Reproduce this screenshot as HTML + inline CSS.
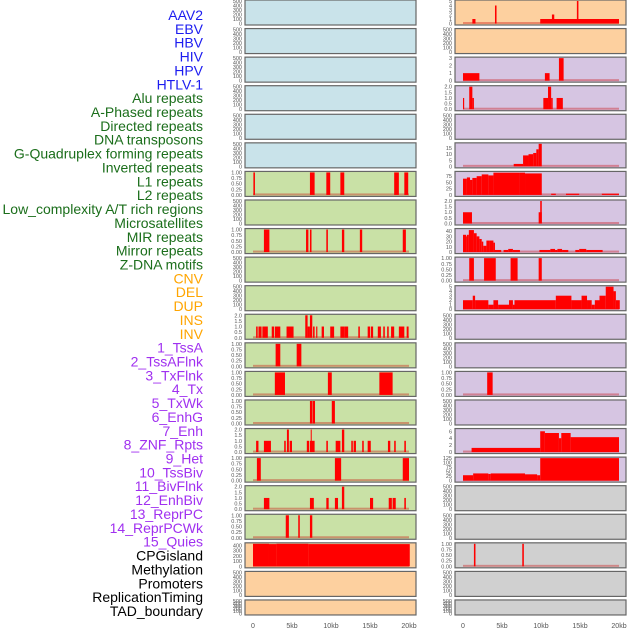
<!DOCTYPE html>
<html><head><meta charset="utf-8">
<style>
html,body{margin:0;padding:0;background:#fff;}
svg{display:block;font-family:"Liberation Sans",sans-serif;}
</style></head>
<body>
<svg id="chart" width="630" height="630" viewBox="0 0 630 630" xmlns="http://www.w3.org/2000/svg"></svg>
<script>
const categories = ["AAV2","EBV","HBV","HIV","HPV","HTLV-1","Alu repeats","A-Phased repeats","Directed repeats","DNA transposons","G-Quadruplex forming repeats","Inverted repeats","L1 repeats","L2 repeats","Low_complexity A/T rich regions","Microsatellites","MIR repeats","Mirror repeats","Z-DNA motifs","CNV","DEL","DUP","INS","INV","1_TssA","2_TssAFlnk","3_TxFlnk","4_Tx","5_TxWk","6_EnhG","7_Enh","8_ZNF_Rpts","9_Het","10_TssBiv","11_BivFlnk","12_EnhBiv","13_ReprPC","14_ReprPCWk","15_Quies","CPGisland","Methylation","Promoters","ReplicationTiming","TAD_boundary"];
const groups = ["virus","virus","virus","virus","virus","virus","repeat","repeat","repeat","repeat","repeat","repeat","repeat","repeat","repeat","repeat","repeat","repeat","repeat","sv","sv","sv","sv","sv","state","state","state","state","state","state","state","state","state","state","state","state","state","state","state","other","other","other","other","other"];
const xTicks = [0,5,10,15,20];
const xTickLabels = ["0","5kb","10kb","15kb","20kb"];
// tick label sets
const tEmpty = ["0","100","200","300","400","500"];
const tUnit = ["0.00","0.25","0.50","0.75","1.00"];
const tTwo = ["0.0","0.5","1.0","1.5","2.0"];
// per panel: [yMax, tickValues, tickLabels]
const yMaxByName = {"Alu repeats":1,"Directed repeats":1,"Inverted repeats":2,"L1 repeats":1,"L2 repeats":1,"Low_complexity A/T rich regions":1,"Microsatellites":2,"MIR repeats":1,"Mirror repeats":2,"Z-DNA motifs":1,"CNV":430,"INS":5,"1_TssA":3,"2_TssAFlnk":2,"4_Tx":18.5,"5_TxWk":90,"6_EnhG":2,"7_Enh":43,"8_ZNF_Rpts":1,"9_Het":5,"12_EnhBiv":1,"14_ReprPCWk":6.5,"15_Quies":125,"Promoters":1};
const tickValsByName = {"CNV":[0,100,200,300,400],"INS":[0,1,2,3,4,5],"1_TssA":[0,1,2,3],"4_Tx":[0,5,10,15],"5_TxWk":[0,25,50,75],"7_Enh":[0,10,20,30,40],"9_Het":[0,1,2,3,4,5],"14_ReprPCWk":[0,2,4,6],"15_Quies":[0,25,50,75,100,125]};
// segments: [startKb, endKb, value]
const segAlu = [[0.05,0.25,1],[7.3,7.9,1],[9.4,9.9,1],[11.2,11.7,1],[18.1,18.7,1],[19.4,19.9,1]];
const segDirected = [[1.4,2.1,1],[6.8,7.1,1],[7.3,7.5,1],[9.4,9.6,1],[11.4,11.7,1],[13.7,14.0,1],[19.2,19.6,1]];
const segInverted = [[0.4,0.6,1],[0.7,1.1,1],[1.2,1.9,1],[2.4,2.7,1],[2.8,3.5,1],[4.3,5.2,1],[6.7,7.0,2],[7.0,7.3,1],[7.3,7.6,2],[7.7,7.9,1],[8.1,8.25,1],[8.8,9.1,1],[9.9,10.4,1],[11.2,11.7,1],[11.7,12.2,1],[13.5,13.7,1],[14.7,15.0,1],[15.1,15.4,1],[16.0,16.4,1],[16.7,16.9,1],[17.2,17.4,1],[17.7,18.1,1],[18.7,19.4,1],[19.7,19.95,1]];
const segL1 = [[2.9,3.5,1],[5.6,6.2,1]];
const segL2 = [[2.8,4.1,1],[9.6,10.1,1],[16.2,17.9,1]];
const segLowCx = [[7.3,7.6,1],[7.65,7.95,1],[10.1,10.5,1]];
const segMicro = [[0.4,0.7,1],[1.4,2.3,1],[4.0,4.2,1],[4.35,4.6,2],[4.7,5.0,1],[6.9,7.2,1],[7.3,7.9,1],[7.4,7.5,2],[9.4,9.6,1],[10.6,11.2,1],[11.4,11.7,2],[12.6,12.8,1],[12.9,13.2,1],[14.0,14.2,1],[14.7,15.1,1],[17.3,17.6,1],[18.1,18.3,1],[19.4,19.6,1]];
const segMIR = [[0.5,1.0,1],[10.5,11.3,1],[19.2,20.0,1]];
const segMirror = [[1.4,2.1,1],[7.3,7.8,1],[9.4,9.7,1],[10.5,10.9,1],[11.4,11.7,2],[15.0,15.4,1],[17.4,17.8,1],[17.9,18.3,1],[19.4,19.6,1]];
const segZDNA = [[4.2,4.6,1],[5.8,6.0,1],[7.3,7.6,1]];
const segCNV = [[0,2.05,430],[2.05,3.0,425],[3.0,7.1,430],[7.1,20.1,425]];
const segINS = [[1.2,1.6,1],[4.1,4.3,4],[9.9,20.0,1],[11.4,11.7,2],[14.6,14.8,5]];
const segTssA = [[0,2.1,1],[10.5,11.1,1],[12.3,12.9,3]];
const segTssAFlnk = [[0,0.15,1],[0.8,1.2,2],[1.2,1.4,1],[10.3,10.9,1],[10.9,11.3,2],[11.3,11.5,1],[12.0,12.8,1]];
const segTx = [[6.5,7.7,2],[7.7,8.4,9],[8.4,9.0,10],[9.0,9.4,11],[9.4,9.7,14],[9.7,10.1,18.5]];
const segTxWk = [[0,0.5,65],[0.5,0.9,70],[0.9,1.2,60],[1.2,1.75,68],[1.75,2.4,75],[2.4,3.25,82],[3.25,3.9,78],[3.9,7.3,89],[7.3,7.95,89],[7.95,10.1,86],[11.3,11.9,5],[13.2,14.9,5],[17.8,20.0,5]];
const segEnhG = [[0,1.15,1],[9.7,10.1,1],[9.9,10.1,2]];
const segEnh = [[0,0.4,33],[0.4,0.5,30],[0.5,0.75,33],[0.75,1.4,42],[1.4,1.75,36],[1.75,2.1,30],[2.1,2.4,25],[2.4,2.6,20],[2.6,3.0,12],[3.0,3.45,22],[3.45,3.9,22],[3.9,4.1,18],[4.1,4.9,4],[5.2,5.8,4],[5.8,6.4,6],[6.4,7.3,4],[9.8,11.2,4],[11.2,11.8,6],[11.8,12.1,4],[12.1,12.7,6],[12.7,13.5,4],[14.4,14.9,4],[14.9,15.8,6],[15.8,17.9,4]];
const segZNF = [[0.8,1.4,1],[2.7,4.2,1],[6.1,7.0,1],[9.7,10.1,1]];
const segHet = [[0,1.25,2],[1.25,1.55,3],[1.55,3.25,2],[3.25,3.9,1],[3.9,4.5,2],[4.5,5.9,1],[5.9,6.4,2],[6.4,6.6,1],[6.6,11.9,2],[11.9,13.9,3],[13.9,15.2,2],[15.2,15.9,3],[15.9,16.5,2],[16.5,16.9,1],[16.9,17.5,2],[17.5,18.3,3],[18.3,19.3,5],[19.3,19.6,4],[19.6,20.1,2]];
const segEnhBiv = [[3.1,3.8,1]];
const segReprPCWk = [[1.1,9.9,1.2],[9.9,10.5,6],[10.5,12.3,5.5],[12.3,12.6,4],[12.6,13.8,5.5],[13.8,20.0,4.3]];
const segQuies = [[0,1.3,30],[1.3,3.25,40],[3.25,3.55,37],[3.55,7.95,40],[7.95,9.5,35],[9.5,9.9,30],[9.9,20.0,125]];
const segPromoters = [[1.4,1.6,1],[7.6,7.8,1]];
const segmentsByName = {"Alu repeats":segAlu,"Directed repeats":segDirected,"Inverted repeats":segInverted,"L1 repeats":segL1,"L2 repeats":segL2,"Low_complexity A/T rich regions":segLowCx,"Microsatellites":segMicro,"MIR repeats":segMIR,"Mirror repeats":segMirror,"Z-DNA motifs":segZDNA,"CNV":segCNV,"INS":segINS,"1_TssA":segTssA,"2_TssAFlnk":segTssAFlnk,"4_Tx":segTx,"5_TxWk":segTxWk,"6_EnhG":segEnhG,"7_Enh":segEnh,"8_ZNF_Rpts":segZNF,"9_Het":segHet,"12_EnhBiv":segEnhBiv,"14_ReprPCWk":segReprPCWk,"15_Quies":segQuies,"Promoters":segPromoters};

const NS = "http://www.w3.org/2000/svg";
const svg = document.getElementById("chart");
const labelColor = {virus:"#1c1cf0",repeat:"#1b6e1b",sv:"#ffa500",state:"#a030f0",other:"#000"};
const bg = {virus:"#c9e3ea",repeat:"#c9e1a6",sv:"#fdd09f",state:"#d6c5e2",other:"#d0d0d0"};
function mk(tag, attrs, parent){const e=document.createElementNS(NS,tag);for(const k in attrs)e.setAttribute(k,attrs[k]);(parent||svg).appendChild(e);return e;}
function slug(s){return s.toLowerCase().replace(/[^a-z0-9]+/g,'-').replace(/^-|-$/g,'');}

// left labels
categories.forEach((c,i)=>{
  const t=mk("text",{x:203,y:20+i*13.86,"text-anchor":"end","font-size":"14",fill:labelColor[groups[i]]});
  t.textContent=c;
  
  
});

const colX=[245,455], panelW=171, pitch=28.57;
function xScale(col,kb){return colX[col]+8+kb*7.8;}
categories.forEach((c,i)=>{
  const col=i<22?0:1, row=i%22;
  const top=row*pitch, h=(row===21)?15:25;
  const g=mk("g",{});
  
  
  mk("rect",{x:colX[col],y:top,width:panelW,height:h,fill:bg[groups[i]],stroke:"#666","stroke-width":1.2},g);
  const segs=segmentsByName[c];
  const yMax=yMaxByName[c]||500;
  const y0=top+h-1.5, span=h-2.5;
  const yScale=v=>y0-(v/yMax)*span;
  // ticks
  let vals, labs;
  if(tickValsByName[c]){vals=tickValsByName[c];labs=vals.map(String);}
  else if(yMax===1){vals=[0,0.25,0.5,0.75,1];labs=tUnit;}
  else if(yMax===2){vals=[0,0.5,1,1.5,2];labs=tTwo;}
  else {vals=[0,100,200,300,400,500];labs=tEmpty;}
  vals.forEach((v,k)=>{
    const t=mk("text",{x:colX[col]-3,y:yScale(v)+2,"text-anchor":"end","font-size":"5.5",fill:"#555"},g);
    t.textContent=labs[k];
    
    
  });
  if(segs){
    const bl=mk("rect",{x:xScale(col,0),y:y0-1.5,width:xScale(col,20)-xScale(col,0),height:2,fill:"rgba(200,0,0,0.35)"},g);
    
    
    segs.forEach(s=>{
      const x1=xScale(col,s[0]), x2=xScale(col,s[1]), yt=Math.max(top+0.6,yScale(s[2]));
      const r=mk("rect",{x:x1,y:yt,width:Math.max(1,x2-x1),height:y0-yt,fill:"#ff0000"},g);
      
      
    });
  }
});
// x axes
[0,1].forEach(col=>{
  xTicks.forEach((v,k)=>{
    const t=mk("text",{x:xScale(col,v),y:628,"text-anchor":"middle","font-size":"7",fill:"#555"});
    t.textContent=xTickLabels[k];
    
    
  });
});
</script>
</body></html>
